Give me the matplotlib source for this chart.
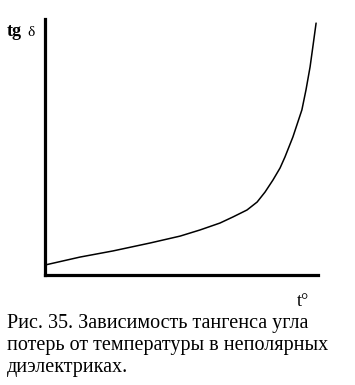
import matplotlib
matplotlib.use("Agg")
import matplotlib.pyplot as plt

# Data (arbitrary units)
temperature = [0, 12.8, 24.9, 38.5, 49.5, 56.8, 64.1, 68.9, 74.0, 77.7, 80.6, 83.5,
               86.1, 87.9, 90.8, 94.1, 95.6, 97.1, 98.2, 99.3]
tg_delta = [3.9, 7.0, 9.4, 12.5, 15.2, 17.6, 20.3, 22.7, 25.4, 28.5, 32.4, 37.1,
            41.8, 46.1, 53.9, 64.5, 72.3, 81.3, 89.8, 98.4]

caption_lines = ["Рис. 35. Зависимость тангенса угла",
                 "потерь от температуры в неполярных",
                 "диэлектриках."]

W, H = 355, 385
fig = plt.figure(figsize=(W / 100, H / 100), dpi=100)
fig.patch.set_facecolor("white")

ax = fig.add_axes([45 / W, (H - 275) / H, (318 - 45) / W, (275 - 19) / H])
ax.plot(temperature, tg_delta, color="black", lw=1.1, solid_capstyle="round",
        solid_joinstyle="round")
ax.set_xlim(0, 100)
ax.set_ylim(0, 100)
for s in ["top", "right"]:
    ax.spines[s].set_visible(False)
for s in ["left", "bottom"]:
    ax.spines[s].set_linewidth(2.3)
ax.set_xticks([])
ax.set_yticks([])

serif = ["Liberation Serif", "DejaVu Serif"]
fig.text(7 / W, 1 - 36 / H, "tg", fontsize=13, family=serif, weight="bold",
         va="baseline", ha="left")
fig.text(27 / W, 1 - 36 / H, "δ", fontsize=11, family=serif, va="baseline", ha="left")
fig.text(297 / W, 1 - 306 / H, "t°", fontsize=13, family=serif, va="baseline", ha="left")
for i, line in enumerate(caption_lines):
    fig.text(7 / W, 1 - (328 + 22 * i) / H, line, fontsize=14.5, family=serif,
             va="baseline", ha="left")

fig.savefig("out.png", dpi=100, facecolor="white")
